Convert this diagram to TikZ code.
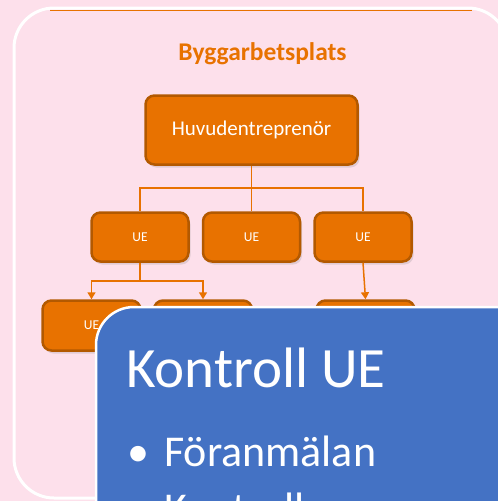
\documentclass[tikz,border=0pt]{standalone}
\usepackage{fontspec}
\setmainfont{Carlito}
\usetikzlibrary{arrows.meta,shadows}

\definecolor{sitepink}{HTML}{FDE0EB}
\definecolor{boxorange}{HTML}{E87200}
\definecolor{boxedge}{HTML}{B35900}
\definecolor{slideblue}{HTML}{4472C4}

\tikzset{
  orgbox/.style={rectangle, rounded corners=9pt, fill=boxorange, draw=boxedge,
    line width=2.5pt, text=white, inner sep=0pt,
    drop shadow={shadow xshift=2pt, shadow yshift=-3pt, opacity=0.22}},
  uebox/.style={orgbox, minimum width=97pt, minimum height=49pt,
    font=\fontsize{13.5}{16}\selectfont},
  link/.style={draw=boxorange, line width=1.5pt},
  arrowlink/.style={link, -{Triangle[length=7pt,width=8pt]}},
}

\begin{document}
\begin{tikzpicture}[x=1pt,y=-1pt]

\useasboundingbox (0,0) rectangle (498,501);
\clip (0,0) rectangle (498,501);
\fill[sitepink] (0,0) rectangle (498,501);

% frame of the site
\draw[white, line width=3pt, rounded corners=40pt] (14,8) rectangle (508,498);
\draw[boxorange, line width=1.8pt] (50,10.5) -- (472,10.5);

\node[anchor=base, text=boxorange, font=\bfseries\fontsize{25.5}{30}\selectfont]
  (title) at (262.5,60) {Byggarbetsplats};

% organisation
\node[orgbox, minimum width=212pt, minimum height=69pt,
  font=\fontsize{21}{25}\selectfont] (hu) at (251.5,130) {Huvudentreprenör};

\node[uebox] (ue1) at (140,237) {UE};
\node[uebox] (ue2) at (251.5,237) {UE};
\node[uebox] (ue3) at (363,237) {UE};

\node[uebox, minimum width=98pt, minimum height=50pt] (ue4) at (91.5,325.5) {UE};
\node[uebox, minimum width=98pt, minimum height=50pt] (ue5) at (203,325.5) {};
\node[uebox, minimum width=98pt, minimum height=50pt] (ue6) at (365.5,325.5) {};

\draw[link] (hu.south) -- ++(0,22) -| (ue1.north);
\draw[link] (hu.south) -- ++(0,22) -| (ue3.north);
\draw[link] (hu.south) -- (ue2.north);

\draw[arrowlink] (ue1.south) -- ++(0,18) -| (ue4.north);
\draw[arrowlink] (ue1.south) -- ++(0,18) -| (ue5.north);
\draw[arrowlink] (ue3.south) -- (ue6.north);

% slide box
\draw[fill=slideblue, draw=white, line width=2.5pt, rounded corners=38pt]
  (96,307) rectangle (540,540);

\node[anchor=base west, inner sep=0pt, text=white, font=\fontsize{57}{68}\selectfont]
  (head) at (126,387) {Kontroll UE};
\node[anchor=base west, inner sep=0pt, text=white, font=\fontsize{44}{53}\selectfont]
  (dot1) at (127,466) {•};
\node[anchor=base west, inner sep=0pt, text=white, font=\fontsize{44}{53}\selectfont]
  (item1) at (164,466) {Föranmälan};
\node[anchor=base west, inner sep=0pt, text=white, font=\fontsize{44}{53}\selectfont]
  (item2) at (164,523) {Kontroll};

\end{tikzpicture}
\end{document}
